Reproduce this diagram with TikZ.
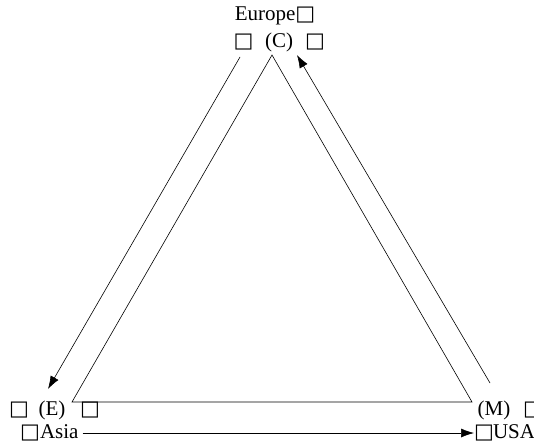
\documentclass[tikz,border=0pt]{standalone}
\usepackage{fontspec}
\setmainfont{Liberation Serif}
\newfontfamily\boxfont{DejaVu Sans}
\usetikzlibrary{arrows.meta, positioning, calc}
\newcommand{\bx}{{\boxfont\char"25A1}}

\begin{document}
\begin{tikzpicture}[x=1pt, y=-1pt, font=\fontsize{21}{24}\selectfont,
  lbl/.style={inner sep=0pt},
  flow/.style={-{Latex[length=13pt,width=9pt]}, line width=0.6pt}]
  \useasboundingbox (0,0) rectangle (534,444);
  % triangle
  \coordinate (top) at (272,55);
  \coordinate (left) at (72,402);
  \coordinate (right) at (472,402);
  \draw[line width=0.6pt] (top) -- (left) -- (right) -- cycle;
  % labels
  \node[lbl] (eur) at (275,16) {Europe\bx};
  \node[lbl] (c) at (279,42) {(C)};
  \node[lbl] (cl) at (243.5,42) {\bx};
  \node[lbl] (cr) at (315,42) {\bx};
  \node[lbl] (e) at (52,410) {(E)};
  \node[lbl] (el) at (19,410) {\bx};
  \node[lbl] (er) at (90,410) {\bx};
  \node[lbl, anchor=west] (asia) at (20,433) {\bx Asia};
  \node[lbl] (m) at (494,410) {(M)};
  \node[lbl] (mr) at (533,410) {\bx};
  \node[lbl, anchor=west] (usa) at (474,433) {\bx\hspace{-1pt}USA};
  % arrows
  \coordinate (a1) at (240,57);
  \coordinate (a2) at (48,389);
  \coordinate (b1) at (490,383);
  \coordinate (b2) at (297,55);
  \draw[flow] (a1) -- (a2);
  \draw[flow] (b1) -- (b2);
  \draw[flow, shorten <=4pt] (asia.east) -- (usa.west);
\end{tikzpicture}
\end{document}
